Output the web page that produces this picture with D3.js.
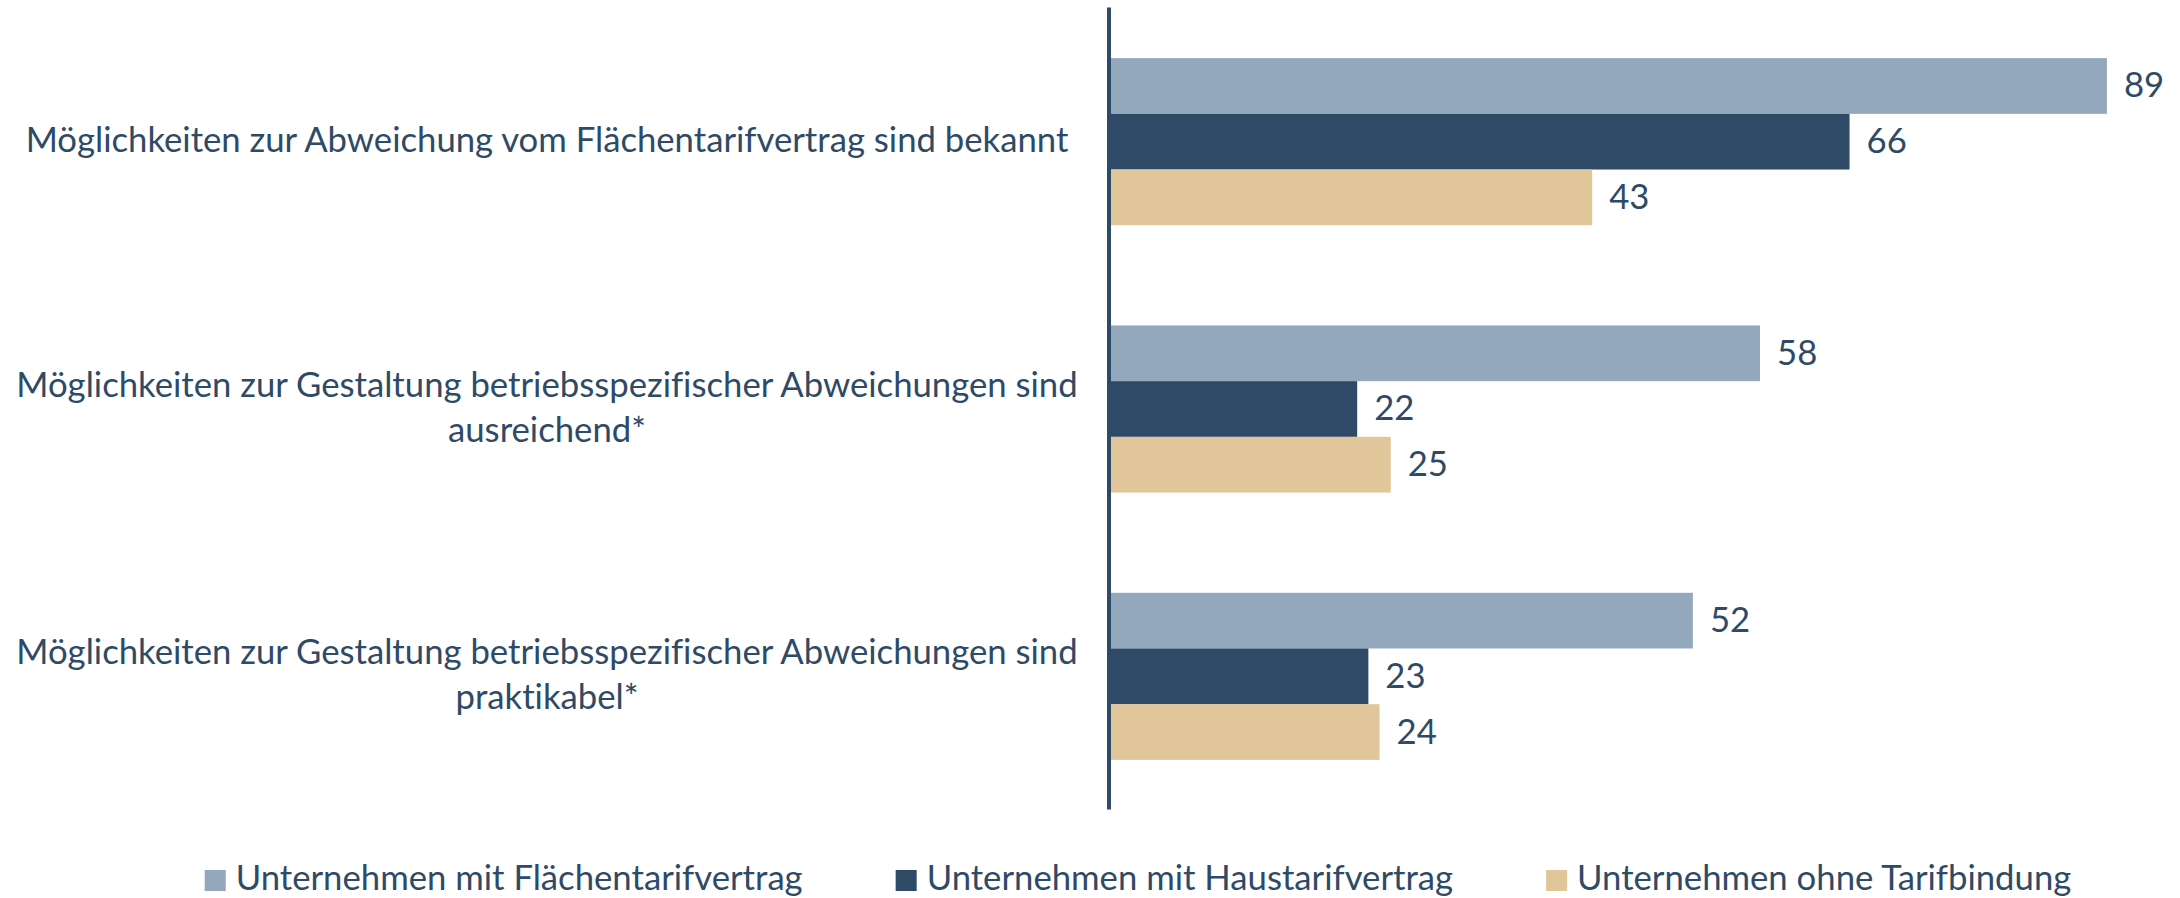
<!DOCTYPE html>
<html>
<head>
<meta charset="utf-8">
<script src="https://cdn.jsdelivr.net/npm/d3@7"></script>
<style>
  body { margin: 0; background: #fff; }
  svg text { font-family: Lato, "Open Sans", sans-serif; fill: #2E4A66; font-variant-ligatures: none; }
</style>
</head>
<body>
<svg id="chart"></svg>
<script>
// data
const categories = [
  'Möglichkeiten zur Abweichung vom Flächentarifvertrag sind bekannt',
  'Möglichkeiten zur Gestaltung betriebsspezifischer Abweichungen sind ausreichend*',
  'Möglichkeiten zur Gestaltung betriebsspezifischer Abweichungen sind praktikabel*'
];
const categoryLines = [
  ['Möglichkeiten zur Abweichung vom Flächentarifvertrag sind bekannt'],
  ['Möglichkeiten zur Gestaltung betriebsspezifischer Abweichungen sind', 'ausreichend*'],
  ['Möglichkeiten zur Gestaltung betriebsspezifischer Abweichungen sind', 'praktikabel*']
];
const seriesNames = [
  'Unternehmen mit Flächentarifvertrag',
  'Unternehmen mit Haustarifvertrag',
  'Unternehmen ohne Tarifbindung'
];
const flaeche = [89, 58, 52];
const haus = [66, 22, 23];
const ohne = [43, 25, 24];
const seriesColors = ['#93A8BD', '#2E4A66', '#E0C698'];

const W = 2180, H = 898;
const fontSize = 34.7;
const textColor = '#2E4A66';

const svg = d3.select('#chart').attr('width', W).attr('height', H);

const seriesValues = [flaeche, haus, ohne];
const rows = categories.map((c, i) => ({
  cat: c,
  lines: categoryLines[i],
  vals: seriesNames.map((s, j) => ({ series: s, idx: j, value: seriesValues[j][i] }))
}));

const x = d3.scaleLinear().domain([0, 100]).range([1111, 2230]);
const y = d3.scaleBand()
  .domain(categories)
  .range([8, 810])
  .paddingInner(0.375)
  .paddingOuter(0.1875);
const ySub = d3.scaleBand().domain(seriesNames).range([0, y.bandwidth()]);

const groups = svg.selectAll('g.group')
  .data(rows)
  .join('g')
  .attr('class', 'group')
  .attr('transform', d => `translate(0,${y(d.cat)})`);

groups.selectAll('rect')
  .data(d => d.vals)
  .join('rect')
  .attr('x', x(0))
  .attr('y', d => ySub(d.series))
  .attr('width', d => x(d.value) - x(0))
  .attr('height', ySub.bandwidth())
  .attr('fill', d => seriesColors[d.idx]);

groups.selectAll('text.val')
  .data(d => d.vals)
  .join('text')
  .attr('class', 'val')
  .attr('x', d => x(d.value) + 17)
  .attr('y', d => ySub(d.series) + ySub.bandwidth() / 2 + 11.5)
  .style('font-size', fontSize + 'px')
  .text(d => d.value);

// category labels, centred on the group
const lineGap = 45;
svg.selectAll('text.cat')
  .data(rows)
  .join('text')
  .attr('class', 'cat')
  .attr('text-anchor', 'middle')
  .style('font-size', fontSize + 'px')
  .each(function (d) {
    const t = d3.select(this);
    const mid = y(d.cat) + y.bandwidth() / 2;
    d.lines.forEach((ln, i) => {
      t.append('tspan')
        .attr('x', 547)
        .attr('y', mid + (i - (d.lines.length - 1) / 2) * lineGap + 10.5)
        .text(ln);
    });
  });

// vertical axis line
const axis = svg.append('g')
  .attr('transform', 'translate(1108.5,0)')
  .call(d3.axisLeft(d3.scaleLinear().range([7, 809])).ticks(0).tickSize(0).tickSizeOuter(0).tickFormat(''));
axis.select('.domain').attr('stroke', textColor).attr('stroke-width', 4);

// legend
const legend = svg.append('g');
const items = legend.selectAll('g')
  .data(seriesNames)
  .join('g');
items.append('rect')
  .attr('width', 21).attr('height', 21)
  .attr('y', 870)
  .attr('fill', (d, i) => seriesColors[i]);
items.append('text')
  .attr('x', 31)
  .attr('y', 890)
  .style('font-size', fontSize + 'px')
  .text(d => d);

const gap = 93;
let widths = [];
items.each(function () {
  widths.push(31 + d3.select(this).select('text').node().getComputedTextLength());
});
const total = d3.sum(widths) + gap * (widths.length - 1);
let cx = 1138 - total / 2;
items.each(function (d, i) {
  d3.select(this).attr('transform', `translate(${cx},0)`);
  cx += widths[i] + gap;
});
</script>
</body>
</html>
